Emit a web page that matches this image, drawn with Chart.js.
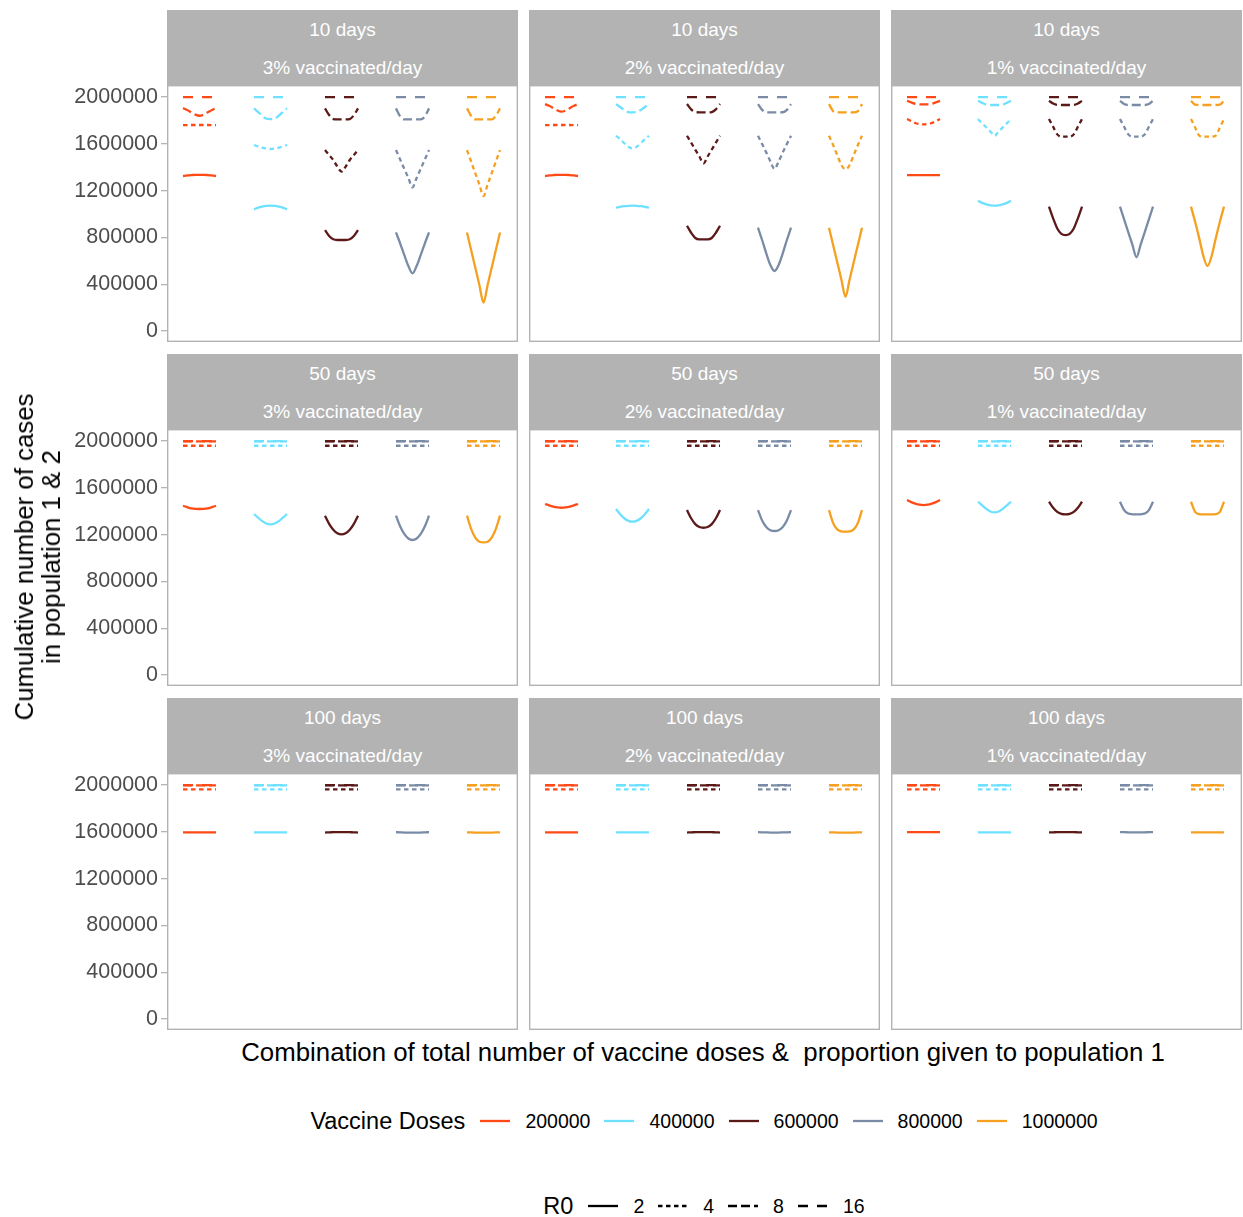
<!DOCTYPE html>
<html>
<head>
<meta charset="utf-8">
<title>Cumulative cases by vaccine allocation</title>
<script src="https://cdn.jsdelivr.net/npm/chart.js@4/dist/chart.umd.min.js"></script>
<style>
  body { margin: 0; background: #fff; font-family: "Liberation Sans", Arial, sans-serif; }
  #wrap { position: relative; width: 1243px; height: 1217px; overflow: hidden; }
  .strip { position: absolute; background: #b3b3b3; color: #fff; font-size: 19px; }
  .strip span { position: absolute; left: 0; right: 0; text-align: center; line-height: 22px; }
  .panel { position: absolute; }
  .title { position: absolute; color: #000; font-size: 25.8px; white-space: pre; }
  .legend { position: absolute; left: 167px; right: 2px; display: flex; justify-content: center; align-items: center; color: #000; }
  .legend .lt { font-size: 23.5px; margin-right: 15px; }
  .legend .lab { font-size: 19.5px; margin: 0 14px 0 15px; }
  .legend .lab:last-child { margin-right: 0; }
  .legend svg { display: block; }
</style>
</head>
<body>
<div id="wrap"></div>
<script>
// -------------------------------
// Data
// -------------------------------
const proportions = [0.1, 0.2, 0.3, 0.4, 0.5, 0.6, 0.7, 0.8, 0.9];
const doses = ["200000", "400000", "600000", "800000", "1000000"];
const r0Levels = ["2", "4", "8", "16"];
const dayLabels = ["10 days", "50 days", "100 days"];
const rateLabels = ["3% vaccinated/day", "2% vaccinated/day", "1% vaccinated/day"];
const yTicks = [0, 400000, 800000, 1200000, 1600000, 2000000];

// cumulative cases in thousands; rows = dose x R0 (2, 4, 8, 16), columns = proportion
const cases_10d_3pct = [
  [1325, 1330, 1333, 1335, 1335, 1335, 1333, 1330, 1325],
  [1760, 1760, 1761, 1761, 1761, 1761, 1761, 1760, 1760],
  [1905, 1890, 1870, 1850, 1840, 1850, 1870, 1890, 1905],
  [2000, 2000, 2000, 2000, 2000, 2000, 2000, 2000, 2000],

  [1040, 1055, 1064, 1069, 1071, 1069, 1064, 1055, 1040],
  [1590, 1578, 1567, 1560, 1556, 1560, 1567, 1578, 1590],
  [1903, 1872, 1840, 1815, 1812, 1815, 1840, 1872, 1903],
  [2000, 2000, 2000, 2000, 2000, 2000, 2000, 2000, 2000],

  [863, 812, 784, 778, 778, 778, 784, 812, 863],
  [1547, 1504, 1462, 1405, 1362, 1405, 1462, 1504, 1547],
  [1903, 1846, 1812, 1809, 1809, 1809, 1812, 1846, 1903],
  [2000, 2000, 2000, 2000, 2000, 2000, 2000, 2000, 2000],

  [843, 750, 650, 555, 493, 555, 650, 750, 843],
  [1547, 1467, 1387, 1308, 1228, 1308, 1387, 1467, 1547],
  [1903, 1835, 1809, 1809, 1809, 1809, 1809, 1835, 1903],
  [2000, 2000, 2000, 2000, 2000, 2000, 2000, 2000, 2000],

  [843, 693, 543, 393, 242, 393, 543, 693, 843],
  [1547, 1449, 1350, 1252, 1154, 1252, 1350, 1449, 1547],
  [1903, 1840, 1809, 1809, 1809, 1809, 1809, 1840, 1903],
  [2000, 2000, 2000, 2000, 2000, 2000, 2000, 2000, 2000]
];

const cases_10d_2pct = [
  [1325, 1330, 1333, 1335, 1335, 1335, 1333, 1330, 1325],
  [1760, 1760, 1761, 1761, 1761, 1761, 1761, 1760, 1760],
  [1940, 1925, 1905, 1885, 1875, 1885, 1905, 1925, 1940],
  [2000, 2000, 2000, 2000, 2000, 2000, 2000, 2000, 2000],

  [1054, 1062, 1067, 1070, 1071, 1070, 1067, 1062, 1054],
  [1669, 1640, 1605, 1575, 1561, 1575, 1605, 1640, 1669],
  [1940, 1915, 1890, 1872, 1869, 1872, 1890, 1915, 1940],
  [2000, 2000, 2000, 2000, 2000, 2000, 2000, 2000, 2000],

  [900, 840, 795, 784, 784, 784, 795, 840, 900],
  [1669, 1610, 1551, 1492, 1433, 1492, 1551, 1610, 1669],
  [1940, 1895, 1872, 1869, 1869, 1869, 1872, 1895, 1940],
  [2000, 2000, 2000, 2000, 2000, 2000, 2000, 2000, 2000],

  [883, 778, 664, 564, 513, 564, 664, 778, 883],
  [1669, 1598, 1527, 1450, 1385, 1450, 1527, 1598, 1669],
  [1940, 1890, 1870, 1869, 1869, 1869, 1870, 1890, 1940],
  [2000, 2000, 2000, 2000, 2000, 2000, 2000, 2000, 2000],

  [883, 736, 588, 441, 293, 441, 588, 736, 883],
  [1669, 1590, 1504, 1419, 1382, 1419, 1504, 1590, 1669],
  [1940, 1880, 1869, 1869, 1869, 1869, 1869, 1880, 1940],
  [2000, 2000, 2000, 2000, 2000, 2000, 2000, 2000, 2000]
];

const cases_10d_1pct = [
  [1333, 1333, 1333, 1333, 1333, 1333, 1333, 1333, 1333],
  [1812, 1795, 1778, 1770, 1766, 1770, 1778, 1795, 1812],
  [1968, 1955, 1942, 1938, 1937, 1938, 1942, 1955, 1968],
  [2000, 2000, 2000, 2000, 2000, 2000, 2000, 2000, 2000],

  [1114, 1095, 1082, 1074, 1071, 1074, 1082, 1095, 1114],
  [1812, 1776, 1741, 1705, 1669, 1705, 1741, 1776, 1812],
  [1968, 1950, 1935, 1932, 1932, 1932, 1935, 1950, 1968],
  [2000, 2000, 2000, 2000, 2000, 2000, 2000, 2000, 2000],

  [1063, 963, 877, 830, 820, 830, 877, 963, 1063],
  [1812, 1746, 1681, 1661, 1661, 1661, 1681, 1746, 1812],
  [1968, 1945, 1933, 1932, 1932, 1932, 1933, 1945, 1968],
  [2000, 2000, 2000, 2000, 2000, 2000, 2000, 2000, 2000],

  [1063, 954, 846, 738, 630, 738, 846, 954, 1063],
  [1812, 1746, 1681, 1661, 1661, 1661, 1681, 1746, 1812],
  [1968, 1940, 1932, 1932, 1932, 1932, 1932, 1940, 1968],
  [2000, 2000, 2000, 2000, 2000, 2000, 2000, 2000, 2000],

  [1063, 934, 792, 640, 555, 640, 792, 934, 1063],
  [1812, 1740, 1670, 1661, 1661, 1661, 1670, 1740, 1812],
  [1968, 1935, 1932, 1932, 1932, 1932, 1932, 1935, 1968],
  [2000, 2000, 2000, 2000, 2000, 2000, 2000, 2000, 2000]
];

const cases_50d_3pct = [
  [1447, 1435, 1425, 1420, 1419, 1420, 1425, 1435, 1447],
  [1960, 1960, 1960, 1960, 1960, 1960, 1960, 1960, 1960],
  [1998, 1998, 1998, 1998, 1998, 1998, 1998, 1998, 1998],
  [2000, 2000, 2000, 2000, 2000, 2000, 2000, 2000, 2000],

  [1376, 1345, 1315, 1295, 1288, 1295, 1315, 1345, 1376],
  [1960, 1960, 1960, 1960, 1960, 1960, 1960, 1960, 1960],
  [1998, 1998, 1998, 1998, 1998, 1998, 1998, 1998, 1998],
  [2000, 2000, 2000, 2000, 2000, 2000, 2000, 2000, 2000],

  [1362, 1292, 1242, 1212, 1202, 1212, 1242, 1292, 1362],
  [1960, 1960, 1960, 1960, 1960, 1960, 1960, 1960, 1960],
  [1998, 1998, 1998, 1998, 1998, 1998, 1998, 1998, 1998],
  [2000, 2000, 2000, 2000, 2000, 2000, 2000, 2000, 2000],

  [1362, 1271, 1206, 1167, 1154, 1167, 1206, 1271, 1362],
  [1960, 1960, 1960, 1960, 1960, 1960, 1960, 1960, 1960],
  [1998, 1998, 1998, 1998, 1998, 1998, 1998, 1998, 1998],
  [2000, 2000, 2000, 2000, 2000, 2000, 2000, 2000, 2000],

  [1362, 1250, 1175, 1140, 1134, 1140, 1175, 1250, 1362],
  [1960, 1960, 1960, 1960, 1960, 1960, 1960, 1960, 1960],
  [1998, 1998, 1998, 1998, 1998, 1998, 1998, 1998, 1998],
  [2000, 2000, 2000, 2000, 2000, 2000, 2000, 2000, 2000]
];

const cases_50d_2pct = [
  [1462, 1450, 1440, 1433, 1430, 1433, 1440, 1450, 1462],
  [1960, 1960, 1960, 1960, 1960, 1960, 1960, 1960, 1960],
  [1998, 1998, 1998, 1998, 1998, 1998, 1998, 1998, 1998],
  [2000, 2000, 2000, 2000, 2000, 2000, 2000, 2000, 2000],

  [1419, 1375, 1340, 1318, 1311, 1318, 1340, 1375, 1419],
  [1960, 1960, 1960, 1960, 1960, 1960, 1960, 1960, 1960],
  [1998, 1998, 1998, 1998, 1998, 1998, 1998, 1998, 1998],
  [2000, 2000, 2000, 2000, 2000, 2000, 2000, 2000, 2000],

  [1410, 1340, 1290, 1265, 1259, 1265, 1290, 1340, 1410],
  [1960, 1960, 1960, 1960, 1960, 1960, 1960, 1960, 1960],
  [1998, 1998, 1998, 1998, 1998, 1998, 1998, 1998, 1998],
  [2000, 2000, 2000, 2000, 2000, 2000, 2000, 2000, 2000],

  [1410, 1320, 1265, 1238, 1231, 1238, 1265, 1320, 1410],
  [1960, 1960, 1960, 1960, 1960, 1960, 1960, 1960, 1960],
  [1998, 1998, 1998, 1998, 1998, 1998, 1998, 1998, 1998],
  [2000, 2000, 2000, 2000, 2000, 2000, 2000, 2000, 2000],

  [1410, 1300, 1245, 1228, 1225, 1228, 1245, 1300, 1410],
  [1960, 1960, 1960, 1960, 1960, 1960, 1960, 1960, 1960],
  [1998, 1998, 1998, 1998, 1998, 1998, 1998, 1998, 1998],
  [2000, 2000, 2000, 2000, 2000, 2000, 2000, 2000, 2000]
];

const cases_50d_1pct = [
  [1496, 1478, 1465, 1456, 1453, 1456, 1465, 1478, 1496],
  [1960, 1960, 1960, 1960, 1960, 1960, 1960, 1960, 1960],
  [1998, 1998, 1998, 1998, 1998, 1998, 1998, 1998, 1998],
  [2000, 2000, 2000, 2000, 2000, 2000, 2000, 2000, 2000],

  [1481, 1450, 1420, 1398, 1390, 1398, 1420, 1450, 1481],
  [1960, 1960, 1960, 1960, 1960, 1960, 1960, 1960, 1960],
  [1998, 1998, 1998, 1998, 1998, 1998, 1998, 1998, 1998],
  [2000, 2000, 2000, 2000, 2000, 2000, 2000, 2000, 2000],

  [1481, 1430, 1395, 1377, 1373, 1377, 1395, 1430, 1481],
  [1960, 1960, 1960, 1960, 1960, 1960, 1960, 1960, 1960],
  [1998, 1998, 1998, 1998, 1998, 1998, 1998, 1998, 1998],
  [2000, 2000, 2000, 2000, 2000, 2000, 2000, 2000, 2000],

  [1481, 1410, 1380, 1374, 1373, 1374, 1380, 1410, 1481],
  [1960, 1960, 1960, 1960, 1960, 1960, 1960, 1960, 1960],
  [1998, 1998, 1998, 1998, 1998, 1998, 1998, 1998, 1998],
  [2000, 2000, 2000, 2000, 2000, 2000, 2000, 2000, 2000],

  [1481, 1395, 1375, 1373, 1373, 1373, 1375, 1395, 1481],
  [1960, 1960, 1960, 1960, 1960, 1960, 1960, 1960, 1960],
  [1998, 1998, 1998, 1998, 1998, 1998, 1998, 1998, 1998],
  [2000, 2000, 2000, 2000, 2000, 2000, 2000, 2000, 2000]
];

const cases_100d_3pct = [
  [1596, 1596, 1596, 1596, 1596, 1596, 1596, 1596, 1596],
  [1963, 1963, 1963, 1963, 1963, 1963, 1963, 1963, 1963],
  [1998, 1998, 1998, 1998, 1998, 1998, 1998, 1998, 1998],
  [2000, 2000, 2000, 2000, 2000, 2000, 2000, 2000, 2000],

  [1596, 1596, 1596, 1596, 1596, 1596, 1596, 1596, 1596],
  [1963, 1963, 1963, 1963, 1963, 1963, 1963, 1963, 1963],
  [1998, 1998, 1998, 1998, 1998, 1998, 1998, 1998, 1998],
  [2000, 2000, 2000, 2000, 2000, 2000, 2000, 2000, 2000],

  [1594, 1596, 1597, 1598, 1598, 1598, 1597, 1596, 1594],
  [1963, 1963, 1963, 1963, 1963, 1963, 1963, 1963, 1963],
  [1998, 1998, 1998, 1998, 1998, 1998, 1998, 1998, 1998],
  [2000, 2000, 2000, 2000, 2000, 2000, 2000, 2000, 2000],

  [1597, 1596, 1594, 1593, 1593, 1593, 1594, 1596, 1597],
  [1963, 1963, 1963, 1963, 1963, 1963, 1963, 1963, 1963],
  [1998, 1998, 1998, 1998, 1998, 1998, 1998, 1998, 1998],
  [2000, 2000, 2000, 2000, 2000, 2000, 2000, 2000, 2000],

  [1596, 1595, 1594, 1593, 1593, 1593, 1594, 1595, 1596],
  [1963, 1963, 1963, 1963, 1963, 1963, 1963, 1963, 1963],
  [1998, 1998, 1998, 1998, 1998, 1998, 1998, 1998, 1998],
  [2000, 2000, 2000, 2000, 2000, 2000, 2000, 2000, 2000]
];

const cases_100d_2pct = [
  [1596, 1596, 1596, 1596, 1596, 1596, 1596, 1596, 1596],
  [1963, 1963, 1963, 1963, 1963, 1963, 1963, 1963, 1963],
  [1998, 1998, 1998, 1998, 1998, 1998, 1998, 1998, 1998],
  [2000, 2000, 2000, 2000, 2000, 2000, 2000, 2000, 2000],

  [1596, 1596, 1596, 1596, 1596, 1596, 1596, 1596, 1596],
  [1963, 1963, 1963, 1963, 1963, 1963, 1963, 1963, 1963],
  [1998, 1998, 1998, 1998, 1998, 1998, 1998, 1998, 1998],
  [2000, 2000, 2000, 2000, 2000, 2000, 2000, 2000, 2000],

  [1594, 1596, 1597, 1598, 1598, 1598, 1597, 1596, 1594],
  [1963, 1963, 1963, 1963, 1963, 1963, 1963, 1963, 1963],
  [1998, 1998, 1998, 1998, 1998, 1998, 1998, 1998, 1998],
  [2000, 2000, 2000, 2000, 2000, 2000, 2000, 2000, 2000],

  [1597, 1596, 1595, 1594, 1594, 1594, 1595, 1596, 1597],
  [1963, 1963, 1963, 1963, 1963, 1963, 1963, 1963, 1963],
  [1998, 1998, 1998, 1998, 1998, 1998, 1998, 1998, 1998],
  [2000, 2000, 2000, 2000, 2000, 2000, 2000, 2000, 2000],

  [1596, 1595, 1594, 1594, 1594, 1594, 1594, 1595, 1596],
  [1963, 1963, 1963, 1963, 1963, 1963, 1963, 1963, 1963],
  [1998, 1998, 1998, 1998, 1998, 1998, 1998, 1998, 1998],
  [2000, 2000, 2000, 2000, 2000, 2000, 2000, 2000, 2000]
];

const cases_100d_1pct = [
  [1597, 1597, 1597, 1597, 1597, 1597, 1597, 1597, 1597],
  [1963, 1963, 1963, 1963, 1963, 1963, 1963, 1963, 1963],
  [1998, 1998, 1998, 1998, 1998, 1998, 1998, 1998, 1998],
  [2000, 2000, 2000, 2000, 2000, 2000, 2000, 2000, 2000],

  [1596, 1596, 1596, 1596, 1596, 1596, 1596, 1596, 1596],
  [1963, 1963, 1963, 1963, 1963, 1963, 1963, 1963, 1963],
  [1998, 1998, 1998, 1998, 1998, 1998, 1998, 1998, 1998],
  [2000, 2000, 2000, 2000, 2000, 2000, 2000, 2000, 2000],

  [1595, 1596, 1597, 1597, 1597, 1597, 1597, 1596, 1595],
  [1963, 1963, 1963, 1963, 1963, 1963, 1963, 1963, 1963],
  [1998, 1998, 1998, 1998, 1998, 1998, 1998, 1998, 1998],
  [2000, 2000, 2000, 2000, 2000, 2000, 2000, 2000, 2000],

  [1597, 1597, 1596, 1596, 1596, 1596, 1596, 1597, 1597],
  [1963, 1963, 1963, 1963, 1963, 1963, 1963, 1963, 1963],
  [1998, 1998, 1998, 1998, 1998, 1998, 1998, 1998, 1998],
  [2000, 2000, 2000, 2000, 2000, 2000, 2000, 2000, 2000],

  [1596, 1596, 1596, 1596, 1596, 1596, 1596, 1596, 1596],
  [1963, 1963, 1963, 1963, 1963, 1963, 1963, 1963, 1963],
  [1998, 1998, 1998, 1998, 1998, 1998, 1998, 1998, 1998],
  [2000, 2000, 2000, 2000, 2000, 2000, 2000, 2000, 2000]
];

const panelCases = [
  [cases_10d_3pct, cases_10d_2pct, cases_10d_1pct],
  [cases_50d_3pct, cases_50d_2pct, cases_50d_1pct],
  [cases_100d_3pct, cases_100d_2pct, cases_100d_1pct]
];

// -------------------------------
// Styles / layout
// -------------------------------
const doseColors = ["#ff4a17", "#6de1ff", "#5b1a18", "#7a8ba6", "#f5a020"];
const r0Dashes = [[], [4.5, 3.5], [9, 4], [10, 9]];
const LINE_W = 2.3;
const GROUP_GAP = 1.72;        // x-axis distance between dose groups
const X_MIN = -0.288, X_MAX = 8.216;
const Y_MIN = -94000, Y_MAX = 2103000;

const COL_X = [167, 529, 891];
const ROW_Y = [10, 354, 698];
const PANEL_W = 351, STRIP_H = 75, PANEL_H = 257, AXIS_W = 110;

const wrap = document.getElementById("wrap");

// border drawn on top of lines, like the ggplot panel border
const panelBorder = {
  id: "panelBorder",
  afterDatasetsDraw(chart) {
    const { ctx, chartArea: a } = chart;
    ctx.save();
    ctx.strokeStyle = "#b3b3b3";
    ctx.lineWidth = 1.4;
    ctx.strokeRect(a.left + 0.7, a.top + 0.7, a.right - a.left - 1.4, a.bottom - a.top - 1.4);
    ctx.restore();
  }
};

function buildDatasets(cases) {
  const sets = [];
  doses.forEach((dose, d) => {
    r0Levels.forEach((r0, r) => {
      const row = cases[d * r0Levels.length + r];
      sets.push({
        label: dose + " / R0 " + r0,
        data: proportions.map((p, k) => ({ x: d * GROUP_GAP + p, y: row[k] * 1000 })),
        borderColor: doseColors[d],
        borderWidth: LINE_W,
        borderDash: r0Dashes[r],
        borderCapStyle: "butt",
        pointRadius: 0,
        fill: false,
        cubicInterpolationMode: "monotone"
      });
    });
  });
  return sets;
}

// -------------------------------
// Panels
// -------------------------------
function makePanel(row, col) {
  const strip = document.createElement("div");
  strip.className = "strip";
  strip.style.left = COL_X[col] + "px";
  strip.style.top = ROW_Y[row] + "px";
  strip.style.width = PANEL_W + "px";
  strip.style.height = STRIP_H + "px";
  strip.innerHTML = `<span style="top:9px">${dayLabels[row]}</span><span style="top:47px">${rateLabels[col]}</span>`;
  wrap.appendChild(strip);

  const withAxis = col === 0;
  const axisW = withAxis ? AXIS_W : 0;
  const canvas = document.createElement("canvas");
  canvas.className = "panel";
  canvas.width = PANEL_W + axisW;
  canvas.height = PANEL_H;
  canvas.style.left = (COL_X[col] - axisW) + "px";
  canvas.style.top = (ROW_Y[row] + STRIP_H) + "px";
  wrap.appendChild(canvas);

  new Chart(canvas, {
    type: "line",
    data: { datasets: buildDatasets(panelCases[row][col]) },
    options: {
      responsive: false,
      animation: false,
      devicePixelRatio: 1,
      layout: { padding: 0 },
      plugins: { legend: { display: false }, tooltip: { enabled: false } },
      scales: {
        x: { type: "linear", min: X_MIN, max: X_MAX, display: false },
        y: {
          type: "linear",
          min: Y_MIN,
          max: Y_MAX,
          display: withAxis,
          afterBuildTicks: axis => { axis.ticks = yTicks.map(v => ({ value: v })); },
          afterFit: s => { s.width = axisW; s.paddingTop = 0; s.paddingBottom = 0; },
          border: { display: false },
          grid: { drawOnChartArea: false, drawTicks: true, tickLength: 6, color: "#b3b3b3", lineWidth: 1.3 },
          ticks: {
            color: "#4d4d4d",
            padding: 3,
            font: { family: "Liberation Sans", size: 21.5 },
            callback: v => String(v)
          }
        }
      }
    },
    plugins: [panelBorder]
  });
}

for (let r = 0; r < 3; r++) {
  for (let c = 0; c < 3; c++) makePanel(r, c);
}

// -------------------------------
// Axis titles
// -------------------------------
const xTitle = document.createElement("div");
xTitle.className = "title";
xTitle.textContent = "Combination of total number of vaccine doses &  proportion given to population 1";
xTitle.style.left = "703px";
xTitle.style.top = "1052px";
xTitle.style.transform = "translate(-50%, -50%)";
wrap.appendChild(xTitle);

const yTitle = document.createElement("div");
yTitle.className = "title";
yTitle.style.textAlign = "center";
yTitle.style.lineHeight = "27px";
yTitle.innerHTML = "Cumulative number of cases<br>in population 1 &amp; 2";
yTitle.style.left = "38px";
yTitle.style.top = "557px";
yTitle.style.transform = "translate(-50%, -50%) rotate(-90deg)";
wrap.appendChild(yTitle);

// -------------------------------
// Legends
// -------------------------------
function swatch(color, dash) {
  const da = dash.length ? `stroke-dasharray="${dash.join(",")}"` : "";
  return `<svg width="30" height="10"><line x1="0" y1="5" x2="30" y2="5" stroke="${color}" stroke-width="${LINE_W}" ${da}/></svg>`;
}

const doseLegend = document.createElement("div");
doseLegend.className = "legend";
doseLegend.style.top = "1106px";
doseLegend.style.height = "30px";
doseLegend.innerHTML = `<span class="lt">Vaccine Doses</span>` +
  doses.map((d, i) => swatch(doseColors[i], []) + `<span class="lab">${d}</span>`).join("");
wrap.appendChild(doseLegend);

const r0Legend = document.createElement("div");
r0Legend.className = "legend";
r0Legend.style.top = "1191px";
r0Legend.style.height = "30px";
r0Legend.innerHTML = `<span class="lt">R0</span>` +
  r0Levels.map((r, i) => swatch("#000", r0Dashes[i]) + `<span class="lab">${r}</span>`).join("");
wrap.appendChild(r0Legend);
</script>
</body>
</html>
